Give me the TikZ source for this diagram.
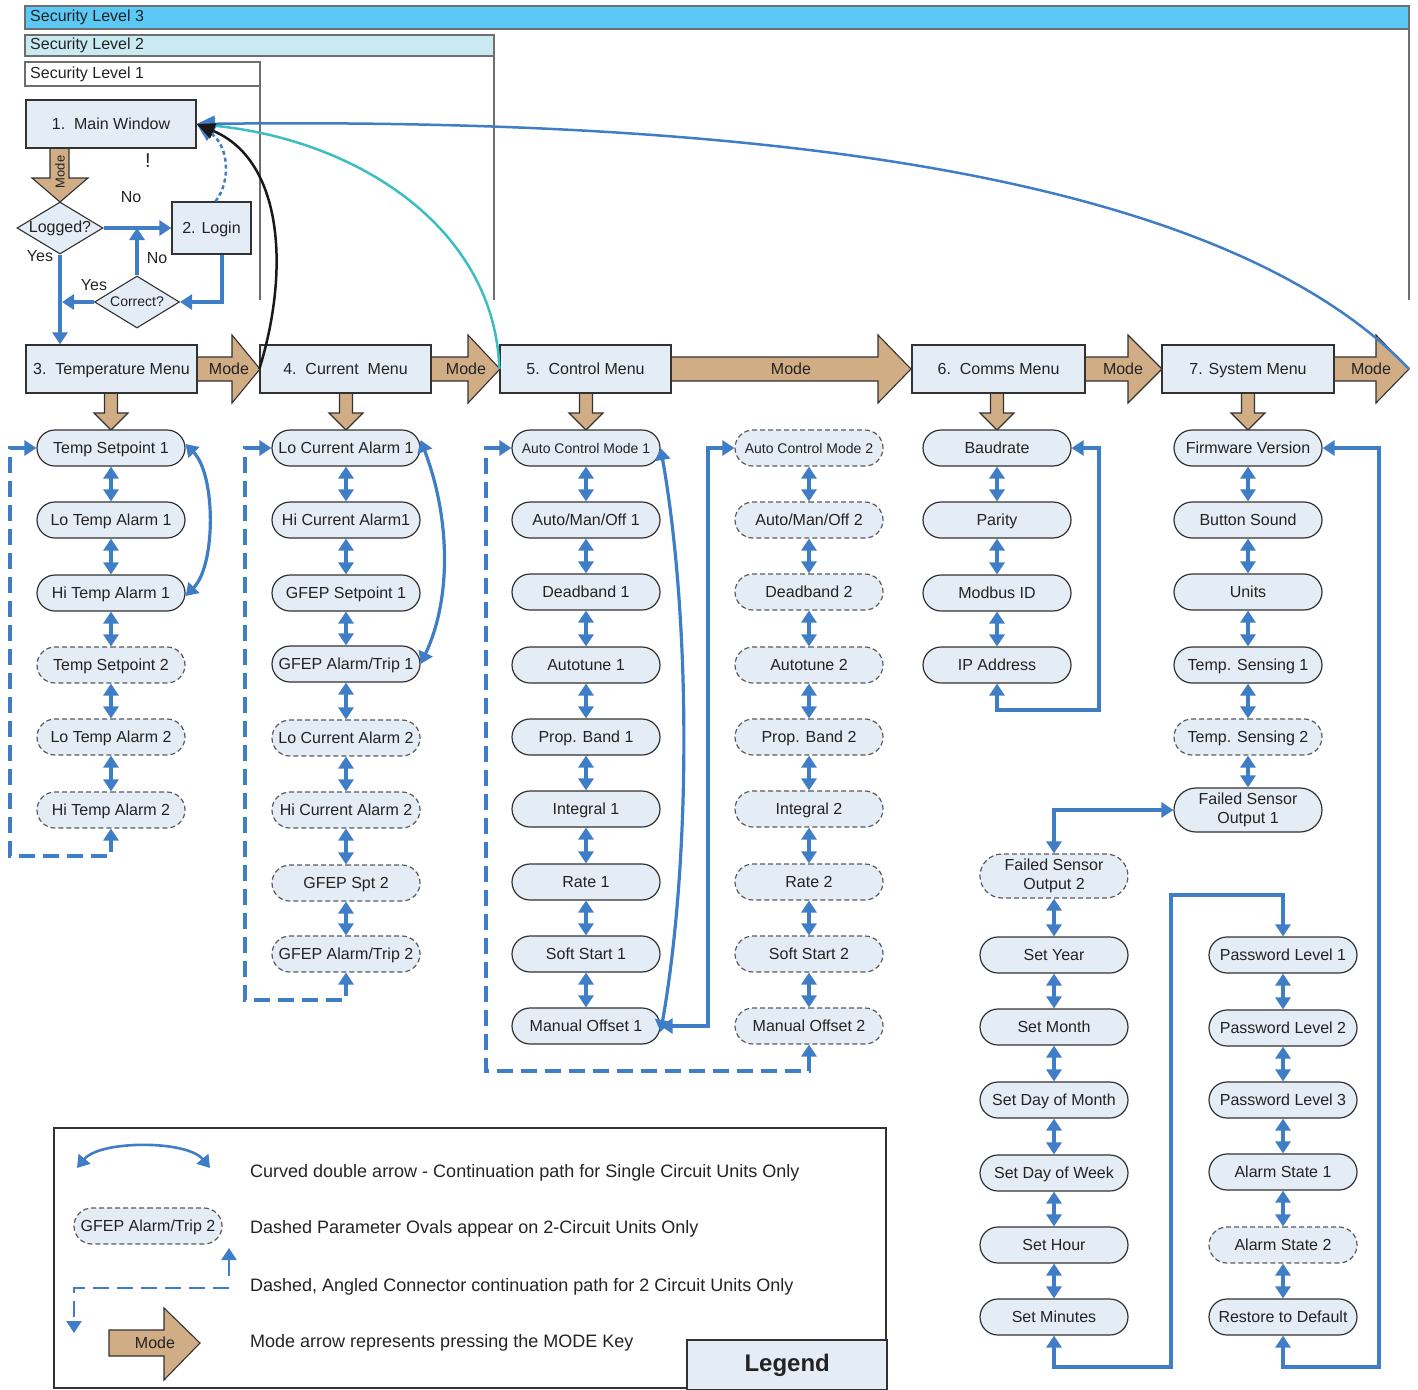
\documentclass[tikz,border=0pt]{standalone}
\usepackage{fontspec}
\setmainfont{Liberation Sans}
\usetikzlibrary{arrows.meta,shapes.misc,shapes.geometric}
\definecolor{nfill}{RGB}{228,236,246}
\definecolor{tanc}{RGB}{209,173,134}
\definecolor{cblue}{RGB}{63,125,199}
\definecolor{tealc}{RGB}{58,190,192}
\definecolor{lvthree}{RGB}{91,200,245}
\definecolor{lvtwo}{RGB}{200,234,240}
\definecolor{edgec}{RGB}{50,50,50}
\definecolor{txt}{RGB}{35,35,35}
\definecolor{secc}{RGB}{110,110,110}
\tikzset{
  f16/.style={font=\fontsize{16}{19}\selectfont},
  menubox/.style={draw=edgec, fill=nfill, line width=1.3pt, minimum width=171pt, minimum height=48pt, inner sep=0pt, f16, text=txt, text height=11.5pt, text depth=0pt},
  parbase/.style={rounded rectangle, draw=edgec, fill=nfill, line width=1.2pt, minimum width=148pt, minimum height=36pt, inner sep=0pt, f16, text=txt, align=center},
  par/.style={parbase, text height=11.5pt, text depth=0pt},
  partwo/.style={par, draw=edgec!80, dash pattern=on 5pt off 3pt},
  partwob/.style={parbase, draw=edgec!80, dash pattern=on 5pt off 3pt},
  tipb/.tip={Triangle[length=12pt,width=15pt]},
  lnk/.style={draw=cblue, line width=3.2pt, tipb-tipb},
  dlnk/.style={lnk, dash pattern=on 16pt off 8pt},
  flow/.style={draw=cblue, line width=3.2pt, -tipb},
  modeshape/.style={draw=edgec, fill=tanc, line width=1.1pt},
  modetext/.style={f16, text=txt, inner sep=0pt},
  lbl/.style={f16, text=txt, inner sep=0pt},
  bigc/.style={line width=2.5pt, -{Triangle[length=18pt,width=16pt]}},
  secline/.style={draw=secc, line width=1.3pt},
  legtxt/.style={font=\fontsize{18}{22}\selectfont, text=txt, anchor=west, inner sep=0pt},
}
\newcommand\hmodearrow[6]{%
  \draw[modeshape] (#2,#5-12) -- (#3,#5-12) -- (#3,#5-34) -- (#4,#5) -- (#3,#5+34) -- (#3,#5+12) -- (#2,#5+12) -- cycle;
  \node[modetext] (#1) at (#6,#5) {Mode};}
\newcommand\dmodearrow[3]{%
  \draw[modeshape] (#1-6.5,#2) -- (#1+6.5,#2) -- (#1+6.5,#3-17) -- (#1+17,#3-17) -- (#1,#3) -- (#1-17,#3-17) -- (#1-6.5,#3-17) -- cycle;}
\begin{document}
\begin{tikzpicture}[x=1pt,y=-1pt]
\useasboundingbox (0,0) rectangle (1418,1389);
% security levels
\draw[secline, fill=lvthree] (25,6) rectangle (1409,29);
\node[lbl, anchor=west] (sl3) at (30,17.5) {Security Level 3};
\draw[secline] (1409,29) -- (1409,300);
\draw[secline, fill=lvtwo] (25,35) rectangle (494,56);
\node[lbl, anchor=west] (sl2) at (30,45.5) {Security Level 2};
\draw[secline] (494,56) -- (494,300);
\draw[secline, fill=white] (25,62) rectangle (260,86);
\node[lbl, anchor=west] (sl1) at (30,74) {Security Level 1};
\draw[secline] (260,86) -- (260,300);

% mode arrows (horizontal)
\hmodearrow{md1}{190}{232}{260}{369}{229}
\hmodearrow{md2}{425}{468}{500}{369}{466}
\hmodearrow{md3}{665}{878}{911}{369}{791}
\hmodearrow{md4}{1080}{1128}{1162}{369}{1123}
\hmodearrow{md5}{1328}{1376}{1409}{369}{1371}
\coordinate (tipend) at (1409,369);

% down mode arrows
\dmodearrow{111}{390}{430}
\dmodearrow{346}{390}{430}
\dmodearrow{586}{390}{430}
\dmodearrow{997}{390}{430}
\dmodearrow{1248}{390}{430}
% main window mode arrow
\draw[modeshape] (50,144) -- (69,144) -- (69,178) -- (88,178) -- (60,202) -- (32,178) -- (50,178) -- cycle;
\node[rotate=90, font=\fontsize{13}{15}\selectfont, text=txt, inner sep=0pt] (mdv) at (60,172) {Mode};

% main boxes
\node[menubox, minimum width=170pt] (mw) at (111,124) {1.\ \ Main Window};
\node[menubox, minimum width=79pt, minimum height=52pt] (login) at (211.5,228) {2. Login};
\node[menubox] (tm) at (111.5,369) {3.\ \ Temperature Menu};
\node[menubox] (cm) at (345.5,369) {4.\ \ Current\ \ Menu};
\node[menubox] (km) at (585.5,369) {5.\ \ Control Menu};
\node[menubox, minimum width=173pt] (om) at (998.5,369) {6.\ \ Comms Menu};
\node[menubox, minimum width=172pt] (sm) at (1248,369) {7. System Menu};

% diamonds
\node[diamond, draw=edgec, fill=nfill, line width=1.1pt, minimum width=86pt, minimum height=52pt, inner sep=0pt, aspect=1.65] (lg) at (60,228) {};
\node[lbl] (lgt) at (60,228) {Logged?};
\node[diamond, draw=edgec, fill=nfill, line width=1.1pt, minimum width=85pt, minimum height=52pt, inner sep=0pt, aspect=1.65] (cr) at (137,302) {};
\node[font=\fontsize{14}{16}\selectfont, text=txt, inner sep=0pt] (crt) at (137,302) {Correct?};

\node[font=\fontsize{20}{22}\selectfont, text=txt] (excl) at (148,161) {!};
\node[lbl] (no1) at (131,197) {No};
\node[lbl] (yes1) at (40,256) {Yes};
\node[lbl] (no2) at (157,258) {No};
\node[lbl] (yes2) at (94,285) {Yes};

% login flow
\draw[flow] (lg.east) -- (login.west);
\draw[flow] (lg.south) -- (lg.south |- tm.north);
\draw[flow] ([xshift=10.5pt]login.south) |- (cr.east);
\draw[flow] (cr.north) -- (cr.north |- lg.east);
\draw[flow] (cr.west) -- ([xshift=2pt]cr.west -| lg.south);

% parameter columns
\node[par] (t1) at (111,448) {Temp Setpoint 1};
\node[par] (t2) at (111,520) {Lo Temp Alarm 1};
\node[par] (t3) at (111,593) {Hi Temp Alarm 1};
\node[partwo] (t4) at (111,665) {Temp Setpoint 2};
\node[partwo] (t5) at (111,737) {Lo Temp Alarm 2};
\node[partwo] (t6) at (111,810) {Hi Temp Alarm 2};

\node[par] (c1) at (346,448) {Lo Current Alarm 1};
\node[par] (c2) at (346,520) {Hi Current Alarm1};
\node[par] (c3) at (346,593) {GFEP Setpoint 1};
\node[par] (c4) at (346,664) {GFEP Alarm/Trip 1};
\node[partwo] (c5) at (346,738) {Lo Current Alarm 2};
\node[partwo] (c6) at (346,810) {Hi Current Alarm 2};
\node[partwo] (c7) at (346,883) {GFEP Spt 2};
\node[partwo] (c8) at (346,954) {GFEP Alarm/Trip 2};

\node[par, font=\fontsize{14}{17}\selectfont, text height=10pt] (a1) at (586,448) {Auto Control Mode 1};
\node[par] (a2) at (586,520) {Auto/Man/Off 1};
\node[par] (a3) at (586,592) {Deadband 1};
\node[par] (a4) at (586,665) {Autotune 1};
\node[par] (a5) at (586,737) {Prop. Band 1};
\node[par] (a6) at (586,809) {Integral 1};
\node[par] (a7) at (586,882) {Rate 1};
\node[par] (a8) at (586,954) {Soft Start 1};
\node[par] (a9) at (586,1026) {Manual Offset 1};

\node[partwo, font=\fontsize{14}{17}\selectfont, text height=10pt] (b1) at (809,448) {Auto Control Mode 2};
\node[partwo] (b2) at (809,520) {Auto/Man/Off 2};
\node[partwo] (b3) at (809,592) {Deadband 2};
\node[partwo] (b4) at (809,665) {Autotune 2};
\node[partwo] (b5) at (809,737) {Prop. Band 2};
\node[partwo] (b6) at (809,809) {Integral 2};
\node[partwo] (b7) at (809,882) {Rate 2};
\node[partwo] (b8) at (809,954) {Soft Start 2};
\node[partwo] (b9) at (809,1026) {Manual Offset 2};

\node[par] (m1) at (997,448) {Baudrate};
\node[par] (m2) at (997,520) {Parity};
\node[par] (m3) at (997,593) {Modbus ID};
\node[par] (m4) at (997,665) {IP Address};

\node[par] (s1) at (1248,448) {Firmware Version};
\node[par] (s2) at (1248,520) {Button Sound};
\node[par] (s3) at (1248,592) {Units};
\node[par] (s4) at (1248,665) {Temp. Sensing 1};
\node[partwo] (s5) at (1248,737) {Temp. Sensing 2};
\node[parbase, minimum height=44pt] (s6) at (1248,810) {Failed Sensor\\Output 1};

\node[partwob, minimum height=44pt] (f1) at (1054,876) {Failed Sensor\\Output 2};
\node[par] (y1) at (1054,955) {Set Year};
\node[par] (y2) at (1054,1027) {Set Month};
\node[par] (y3) at (1054,1100) {Set Day of Month};
\node[par] (y4) at (1054,1173) {Set Day of Week};
\node[par] (y5) at (1054,1245) {Set Hour};
\node[par] (y6) at (1054,1317) {Set Minutes};

\node[par] (p1) at (1283,955) {Password Level 1};
\node[par] (p2) at (1283,1028) {Password Level 2};
\node[par] (p3) at (1283,1100) {Password Level 3};
\node[par] (p4) at (1283,1172) {Alarm State 1};
\node[partwo] (p5) at (1283,1245) {Alarm State 2};
\node[par] (p6) at (1283,1317) {Restore to Default};

% chains
\foreach \a/\b in {t1/t2,t2/t3,t3/t4,t4/t5,t5/t6,
  c1/c2,c2/c3,c3/c4,c4/c5,c5/c6,c6/c7,c7/c8,
  a1/a2,a2/a3,a3/a4,a4/a5,a5/a6,a6/a7,a7/a8,a8/a9,
  b1/b2,b2/b3,b3/b4,b4/b5,b5/b6,b6/b7,b7/b8,b8/b9,
  m1/m2,m2/m3,m3/m4,
  s1/s2,s2/s3,s3/s4,s4/s5,s5/s6,
  f1/y1,y1/y2,y2/y3,y3/y4,y4/y5,y5/y6,
  p1/p2,p2/p3,p3/p4,p4/p5,p5/p6}
  \draw[lnk] (\a.south) -- (\b.north);

% curved continuation arrows
\draw[lnk] ([yshift=4pt]t1.east) .. controls (216,475) and (216,565) .. ([yshift=-3pt]t3.east);
\draw[lnk] ([yshift=8pt]c1.east) .. controls (451,520) and (451,600) .. (c4.east);
\draw[lnk] (a1.east) .. controls (691,620) and (691,860) .. ([yshift=-6pt]a9.east);
\draw[lnk] (a9.east) -| (708,448) -- (b1.west);

% dashed angled connectors
\draw[dlnk] (t1.west) -| (10,856) -| (t6.south);
\draw[dlnk] (c1.west) -| (245,1000) -| (c8.south);
\draw[dlnk] (a1.west) -| (486,1071) -| (b9.south);

% solid angled connectors
\draw[lnk] (m4.south) |- (1099,710) |- (m1.east);
\draw[lnk] (s1.east) -| (1379,1367) -| (p6.south);
\draw[lnk] (s6.west) -| (f1.north);
\draw[lnk] (y6.south) |- (1171,1367) |- (1283,895) -- (p1.north);

% return curves to main window
\draw[bigc, draw=cblue, dash pattern=on 4pt off 3pt] ([xshift=4pt]login.north) .. controls (232,180) and (228,145) .. (mw.east);
\draw[bigc, draw=tealc] (km.west) .. controls (495,230) and (360,140) .. (mw.east);
\draw[bigc, draw=cblue] (tipend) .. controls (1210,160) and (700,118) .. (mw.east);
\draw[bigc, draw=black!90] (cm.west) .. controls (290,270) and (283,160) .. (mw.east);

% legend
\draw[draw=edgec, line width=2.2pt] (54,1128) rectangle (886,1388);
\node[draw=edgec, line width=2.4pt, fill=nfill, minimum width=200pt, minimum height=50pt, anchor=north west, inner sep=0pt, font=\fontsize{24}{28}\selectfont\bfseries, text=txt] (legend) at (686,1339) {Legend};
\coordinate (la) at (77,1168);
\coordinate (lb) at (210,1168);
\draw[lnk, line width=2.6pt] (la) .. controls (100,1140) and (187,1140) .. (lb);
\node[legtxt] (lt1) at (250,1173) {Curved double arrow - Continuation path for Single Circuit Units Only};
\node[partwo] (lov) at (148,1226) {GFEP Alarm/Trip 2};
\node[legtxt] (lt2) at (250,1229) {Dashed Parameter Ovals appear on 2-Circuit Units Only};
\coordinate (lc1) at (229,1276);
\coordinate (lc2) at (229,1248);
\draw[flow, line width=2.6pt] (lc1) -- (lc2);
\coordinate (lc3) at (229,1288);
\coordinate (lc4) at (74,1288);
\coordinate (lc5) at (74,1333);
\draw[flow, line width=2.6pt, dash pattern=on 16pt off 8pt] (lc3) -- (lc4) -- (lc5);
\node[legtxt] (lt3) at (250,1287) {Dashed, Angled Connector continuation path for 2 Circuit Units Only};
\draw[modeshape] (109,1330) -- (164,1330) -- (164,1308) -- (200,1343) -- (164,1380) -- (164,1356) -- (109,1356) -- cycle;
\node[modetext] (lmode) at (155,1343) {Mode};
\node[legtxt] (lt4) at (250,1343) {Mode arrow represents pressing the MODE Key};
\end{tikzpicture}
\end{document}
